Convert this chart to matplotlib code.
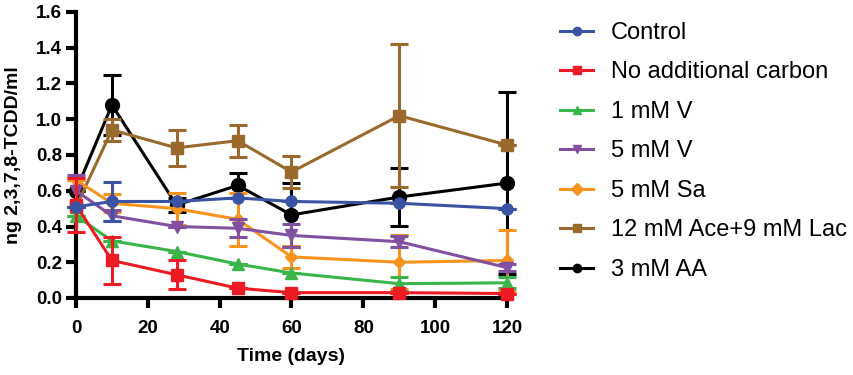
import numpy as np
import matplotlib.pyplot as plt

plt.rcParams['font.family'] = ['Liberation Sans', 'DejaVu Sans']

# ---- data ----
days = [0, 10, 28, 45, 60, 90, 120]

labels = ["Control", "No additional carbon", "1 mM V", "5 mM V", "5 mM Sa",
          "12 mM Ace+9 mM Lac", "3 mM AA"]

control = [0.51, 0.54, 0.54, 0.56, 0.54, 0.53, 0.50]
control_err = [0.0, 0.11, 0.0, 0.0, 0.0, 0.0, 0.0]

no_carbon = [0.52, 0.21, 0.13, 0.055, 0.03, 0.03, 0.025]
no_carbon_err = [0.15, 0.13, 0.08, 0.0, 0.0, 0.0, 0.0]

v1 = [0.46, 0.32, 0.26, 0.19, 0.14, 0.08, 0.085]
v1_err = [0.0, 0.0, 0.0, 0.0, 0.0, 0.04, 0.03]

v5 = [0.60, 0.46, 0.40, 0.39, 0.35, 0.315, 0.17]
v5_err = [0.09, 0.03, 0.0, 0.05, 0.065, 0.03, 0.02]

sa5 = [0.66, 0.53, 0.50, 0.44, 0.23, 0.20, 0.21]
sa5_err = [0.0, 0.05, 0.09, 0.15, 0.06, 0.15, 0.17]

ace_lac = [0.51, 0.94, 0.84, 0.88, 0.705, 1.02, 0.856]
ace_lac_err = [0.0, 0.06, 0.10, 0.09, 0.09, 0.40, 0.0]

aa3 = [0.60, 1.08, 0.52, 0.63, 0.465, 0.565, 0.643]
aa3_err = [0.0, 0.17, 0.04, 0.07, 0.18, 0.16, 0.51]

series = [control, no_carbon, v1, v5, sa5, ace_lac, aa3]
errors = [control_err, no_carbon_err, v1_err, v5_err, sa5_err, ace_lac_err, aa3_err]
colors = ["#3a53a4", "#ed1c24", "#39b54a", "#8150a0", "#f7941d", "#996a2c", "#000000"]
markers = ["o", "s", "^", "v", "D", "s", "o"]
msizes = [8, 8, 8, 8, 6.5, 9, 10]

# ---- plot ----
fig = plt.figure(figsize=(8.54, 3.75), dpi=100)
ax = fig.add_axes([76/854, 77/375, 431/854, 286/375])

for i, (y, e) in enumerate(zip(series, errors)):
    ax.errorbar(days, y, yerr=e, color=colors[i], marker=markers[i], ms=msizes[i],
                lw=2.2, elinewidth=2.2, capsize=6.5, capthick=2.2,
                label=labels[i], zorder=20 - i, clip_on=False)

ax.set_xlim(0, 120)
ax.set_ylim(0, 1.6)
ax.set_xticks([0, 20, 40, 60, 80, 100, 120])
ax.set_yticks(np.arange(0, 1.61, 0.2))
ax.set_yticklabels([f"{v:.1f}" for v in np.arange(0, 1.61, 0.2)])

for s in ["top", "right"]:
    ax.spines[s].set_visible(False)
for s in ["left", "bottom"]:
    ax.spines[s].set_linewidth(3)
ax.tick_params(axis="both", width=3, length=7, labelsize=13.5)
ax.tick_params(axis="x", pad=9)
ax.tick_params(axis="y", pad=3)
for t in ax.get_xticklabels() + ax.get_yticklabels():
    t.set_fontweight("bold")

ax.set_xlabel("Time (days)", fontsize=14, fontweight="bold", labelpad=8)
ax.set_ylabel("ng 2,3,7,8-TCDD/ml", fontsize=14, fontweight="bold", labelpad=10)

leg_handles = [plt.Line2D([], [], color=c, marker=m, ms=6, lw=2.2)
               for c, m in zip(colors, markers)]
fig.legend(leg_handles, labels, loc="upper left", bbox_to_anchor=(560/854, 1 - 22/375),
           frameon=False, fontsize=17, handlelength=1.4, handletextpad=0.75,
           labelspacing=0.74, borderaxespad=0, borderpad=0)

fig.savefig("out.png", dpi=100)
